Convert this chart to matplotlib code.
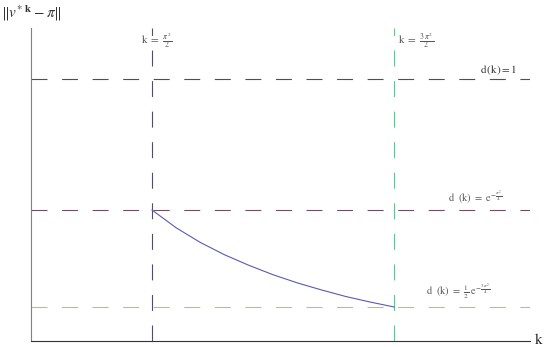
import numpy as np
import matplotlib.pyplot as plt

plt.rcParams['mathtext.fontset'] = 'stix'
plt.rcParams['font.family'] = ['Liberation Serif', 'DejaVu Serif']
plt.rcParams['lines.scale_dashes'] = False

# positions des droites verticales (k = pi^2/2 et 3 pi^2/2, en unités réduites)
k_lines = [1.0, 3.0]
# niveaux horizontaux d(k)
d_levels = [1.0, 0.5, 0.13]
# courbe
k_curve = [1.0, 1.2, 1.4, 1.6, 1.8, 2.0, 2.2, 2.4, 2.6, 2.8, 3.0]
d_curve = [0.5, 0.432, 0.376, 0.329, 0.289, 0.253, 0.222, 0.195, 0.170, 0.149, 0.13]

W, H = 545, 347
fig = plt.figure(figsize=(W / 100, H / 100), dpi=100)
# axes : x de 31 à 530 px, y de 28 à 341 px (depuis le haut)
ax = fig.add_axes([31 / W, (H - 341) / H, (530 - 31) / W, (341 - 28) / H])
ax.set_xlim(0, 499 / 121)
ax.set_ylim(0, 313 / 262)

dash = (11.5, 10.5)
h_colors = ['#4c4c66', '#6e5262', '#c2b986']
for lvl, c in zip(d_levels, h_colors):
    ax.axhline(lvl, color=c, lw=0.8, dashes=dash)

v_colors = ['#4e4e68', '#6cbf92']
for kv, c in zip(k_lines, v_colors):
    ax.axvline(kv, color=c, lw=0.8, dashes=dash)

ax.plot(k_curve, d_curve, color='#5a5ab4', lw=0.8)

for s in ['top', 'right']:
    ax.spines[s].set_visible(False)
ax.spines['left'].set_color('#808080')
ax.spines['bottom'].set_color('#303048')
ax.spines['left'].set_linewidth(0.8)
ax.spines['bottom'].set_linewidth(0.8)
ax.set_xticks([])
ax.set_yticks([])

tc = '#555555'
fig.text(141 / W, 1 - 41 / H, r'$\mathrm{k}\ =\ \frac{\pi^2}{2}$', fontsize=8, color=tc, va='center')
fig.text(398 / W, 1 - 41 / H, r'$\mathrm{k}\ =\ \frac{3\,\pi^2}{2}$', fontsize=8, color=tc, va='center')
fig.text(480 / W, 1 - 70 / H, r'$\mathrm{d}\,(\mathrm{k}) = 1$', fontsize=8, color='#333333', va='center')
fig.text(448 / W, 1 - 198 / H, r'$\mathrm{d}\ \ (\mathrm{k})\ =\ \mathrm{e}^{-\frac{\pi^2}{4}}$', fontsize=7.5, color=tc, va='center')
fig.text(426 / W, 1 - 292 / H, r'$\mathrm{d}\ \ (\mathrm{k})\ =\ \frac{1}{2}\ \mathrm{e}^{-\frac{3\,\pi^2}{4}}$', fontsize=7.5, color=tc, va='center')
fig.text(534 / W, 1 - 340 / H, r'$\mathrm{k}$', fontsize=11, color='#222222', va='center')
fig.text(1 / W, 1 - 13 / H, r'$\|v^{*\ \mathbf{k}}-\pi\|$', fontsize=11, color='#333333', va='center')

plt.savefig('out.png', dpi=100)
